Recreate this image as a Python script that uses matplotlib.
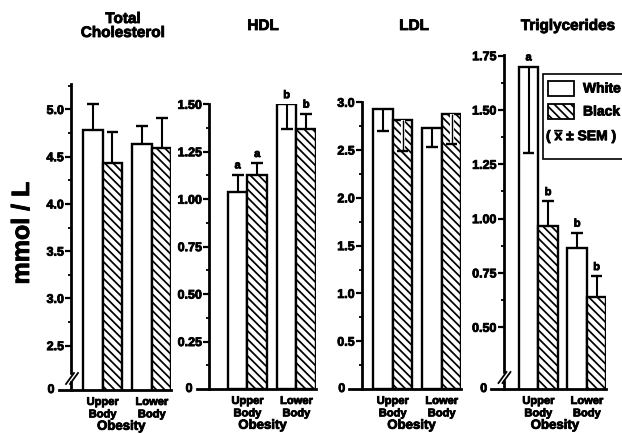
import matplotlib
matplotlib.use("Agg")
import matplotlib.pyplot as plt
from matplotlib.patches import Rectangle
from matplotlib.lines import Line2D
import matplotlib.patheffects as pe
import numpy as np

plt.rcParams['font.family'] = ['Liberation Sans', 'DejaVu Sans']
plt.rcParams['font.weight'] = 'bold'
plt.rcParams['mathtext.fontset'] = 'custom'
plt.rcParams['mathtext.rm'] = 'Liberation Sans:bold'
plt.rcParams['mathtext.bf'] = 'Liberation Sans:bold'
plt.rcParams['hatch.linewidth'] = 1.25

HEAVY = [pe.withStroke(linewidth=0.6, foreground="black")]

# ---------------- data ----------------
categories = ["Upper\nBody", "Lower\nBody"]
series_names = ["White", "Black"]
titles = ["Total\nCholesterol", "HDL", "LDL", "Triglycerides"]

tc_white = [4.78, 4.64]
tc_white_sem = [0.28, 0.19]
tc_black = [4.43, 4.59]
tc_black_sem = [0.33, 0.32]

hdl_white = [1.04, 1.50]
hdl_white_sem = [0.09, 0.13]
hdl_black = [1.13, 1.37]
hdl_black_sem = [0.06, 0.08]

ldl_white = [2.93, 2.73]
ldl_white_sem = [0.23, 0.20]
ldl_black = [2.82, 2.88]
ldl_black_sem = [0.33, 0.32]

tg_white = [1.70, 0.865]
tg_white_sem = [0.40, 0.07]
tg_black = [0.965, 0.64]
tg_black_sem = [0.115, 0.095]

# error bar direction shown (+1 up, -1 down)
tc_dir = ([1, 1], [1, 1])
hdl_dir = ([1, -1], [1, 1])
ldl_dir = ([-1, -1], [-1, -1])
tg_dir = ([-1, 1], [1, 1])

hdl_letters = (["a", "b"], ["a", "b"])
tg_letters = (["a", "b"], ["b", "b"])
no_letters = (["", ""], ["", ""])

tc_ticks = [2.5, 3.0, 3.5, 4.0, 4.5, 5.0]
tc_ticklabels = ["2.5", "3.0", "3.5", "4.0", "4.5", "5.0"]
hdl_ticks = [0.25, 0.50, 0.75, 1.00, 1.25, 1.50]
hdl_ticklabels = ["0.25", "0.50", "0.75", "1.00", "1.25", "1.50"]
ldl_ticks = [0.5, 1.0, 1.5, 2.0, 2.5, 3.0]
ldl_ticklabels = ["0.5", "1.0", "1.5", "2.0", "2.5", "3.0"]
tg_ticks = [0.50, 0.75, 1.00, 1.25, 1.50, 1.75]
tg_ticklabels = ["0.50", "0.75", "1.00", "1.25", "1.50", "1.75"]

# ---------------- figure ----------------
W, H = 622, 435
fig = plt.figure(figsize=(W / 100, H / 100), dpi=100)


def rect(l, r, t, b):
    return [l / W, 1 - b / H, (r - l) / W, (b - t) / H]


panels = [
    dict(title=titles[0], white=tc_white, wsem=tc_white_sem, black=tc_black, bsem=tc_black_sem,
         dirs=tc_dir, letters=no_letters, ylim=(2.03, 5.27), ticks=tc_ticks, labels=tc_ticklabels,
         minor=[2.75, 3.25, 3.75, 4.25, 4.75, 5.25], px=(71, 171.5, 85, 391), xl=-0.643,
         brk=True, title_xy=(123, 27)),
    dict(title=titles[1], white=hdl_white, wsem=hdl_white_sem, black=hdl_black, bsem=hdl_black_sem,
         dirs=hdl_dir, letters=hdl_letters, ylim=(0, 1.5), ticks=hdl_ticks, labels=hdl_ticklabels,
         minor=[0.125, 0.375, 0.625, 0.875, 1.125, 1.375], px=(209, 316, 105.3, 390), xl=-0.786,
         brk=False, title_xy=(263, 27)),
    dict(title=titles[2], white=ldl_white, wsem=ldl_white_sem, black=ldl_black, bsem=ldl_black_sem,
         dirs=ldl_dir, letters=no_letters, ylim=(0, 3.0), ticks=ldl_ticks, labels=ldl_ticklabels,
         minor=[0.25, 0.75, 1.25, 1.75, 2.25, 2.75], px=(361.7, 461.3, 103.3, 390), xl=-0.633,
         brk=False, title_xy=(414, 27)),
    dict(title=titles[3], white=tg_white, wsem=tg_white_sem, black=tg_black, bsem=tg_black_sem,
         dirs=tg_dir, letters=tg_letters, ylim=(0.216, 1.755), ticks=tg_ticks, labels=tg_ticklabels,
         minor=[0.625, 0.875, 1.125, 1.375, 1.625], px=(503.5, 606.3, 55.6, 390), xl=-0.718,
         brk=True, title_xy=(568, 27)),
]

HATCH = "\\\\\\\\"
BW = 0.4
CAP = 0.12
x = np.arange(len(categories))

for p in panels:
    ax = fig.add_axes(rect(*p["px"]))
    ax.set_xlim(p["xl"], 1.4)
    ax.set_ylim(*p["ylim"])
    for side in ("top", "right"):
        ax.spines[side].set_visible(False)
    ax.spines["left"].set_linewidth(2.0)
    ax.spines["bottom"].set_linewidth(2.0)
    ax.spines["bottom"].set_bounds(p["xl"] - 0.25, 1.4)
    ax.spines["left"].set_zorder(5)
    ax.spines["bottom"].set_zorder(5)

    groups = [(p["white"], p["wsem"], p["dirs"][0], p["letters"][0], -BW / 2, None),
              (p["black"], p["bsem"], p["dirs"][1], p["letters"][1], BW / 2, HATCH)]
    for vals, sems, dirs, lets, off, hatch in groups:
        xs = x + off
        ax.bar(xs, vals, BW, color="white", edgecolor="black", linewidth=1.7,
               hatch=hatch, zorder=2)
        for xi, v, s, d, lt in zip(xs, vals, sems, dirs, lets):
            end = v + d * s
            if d < 0 and hatch is not None:
                ax.vlines(xi, end, v, colors="white", linewidth=3.0, zorder=3)
                ax.vlines(xi, end, v, colors="black", linewidth=1.0, zorder=3)
            else:
                ax.vlines(xi, min(v, end), max(v, end), colors="black", linewidth=1.5, zorder=3)
            ax.hlines(end, xi - CAP, xi + CAP, colors="black", linewidth=1.7, zorder=3)
            if lt:
                top = max(v, end)
                ax.annotate(lt, (xi, top), xytext=(0, 3), textcoords="offset points",
                            ha="center", va="bottom", fontsize=8, fontweight="bold",
                            path_effects=HEAVY)

    ax.set_yticks(p["ticks"])
    ax.set_yticklabels(p["labels"])
    ax.set_yticks(p["minor"], minor=True)
    ax.tick_params(axis="y", which="major", direction="out", length=4, width=1.6,
                   labelsize=9, pad=1)
    ax.tick_params(axis="y", which="minor", direction="out", length=2.5, width=1.3)
    for t in ax.get_yticklabels():
        t.set_fontweight("bold")
        t.set_path_effects(HEAVY)
    ax.annotate("0", (p["xl"] - 0.25, p["ylim"][0]), xytext=(-3, 0), textcoords="offset points",
                ha="right", va="center", fontsize=9, fontweight="bold",
                annotation_clip=False, path_effects=HEAVY)

    ax.set_xticks(x)
    ax.set_xticklabels(categories, fontsize=8, fontweight="bold", linespacing=1.3)
    for t in ax.get_xticklabels():
        t.set_path_effects(HEAVY)
    ax.tick_params(axis="x", length=0, pad=5)
    xlab = ax.set_xlabel("Obesity", fontsize=9.5, fontweight="bold", labelpad=1)
    xlab.set_path_effects(HEAVY)

    fig.text(p["title_xy"][0] / W, 1 - p["title_xy"][1] / H, p["title"], ha="center",
             va="center", fontsize=11, fontweight="bold", linespacing=1.0,
             path_effects=HEAVY)

    if p["brk"]:
        sx = p["px"][0]
        yb = p["px"][3]
        fig.add_artist(Rectangle(((sx - 2) / W, 1 - (yb - 10) / H), 4 / W, 5 / H,
                                 transform=fig.transFigure, color="white", zorder=10))
        for dx in (0, 4):
            fig.add_artist(Line2D([(sx - 5 + dx) / W, (sx + 3 + dx) / W],
                                  [1 - (yb - 6) / H, 1 - (yb - 17) / H],
                                  transform=fig.transFigure, color="black", lw=1.3, zorder=11))

# y label
fig.text(22 / W, 1 - 234 / H, "mmol / L", rotation=90, ha="center", va="center",
         fontsize=18, fontweight="bold", path_effects=HEAVY)

# legend (drawn partly beyond the right edge as in the original)
fig.add_artist(Rectangle((543 / W, 1 - 160 / H), 100 / W, 85 / H, transform=fig.transFigure,
                         facecolor="white", edgecolor="black", lw=1.2, zorder=12))
fig.add_artist(Rectangle((548 / W, 1 - 97 / H), 26 / W, 15 / H, transform=fig.transFigure,
                         facecolor="white", edgecolor="black", lw=1.3, zorder=13))
fig.add_artist(Rectangle((548 / W, 1 - 120 / H), 26 / W, 15 / H, transform=fig.transFigure,
                         facecolor="white", edgecolor="black", lw=1.3, hatch=HATCH, zorder=13))
fig.text(583 / W, 1 - 89.5 / H, series_names[0], ha="left", va="center", fontsize=10,
         fontweight="bold", zorder=14, path_effects=HEAVY)
fig.text(583 / W, 1 - 112.5 / H, series_names[1], ha="left", va="center", fontsize=10,
         fontweight="bold", zorder=14, path_effects=HEAVY)
fig.text(546 / W, 1 - 137 / H, r"( $\overline{\mathbf{x}}$ ± SEM )", ha="left", va="center",
         fontsize=10, fontweight="bold", zorder=14, path_effects=HEAVY)

fig.savefig("out.png", dpi=100)
